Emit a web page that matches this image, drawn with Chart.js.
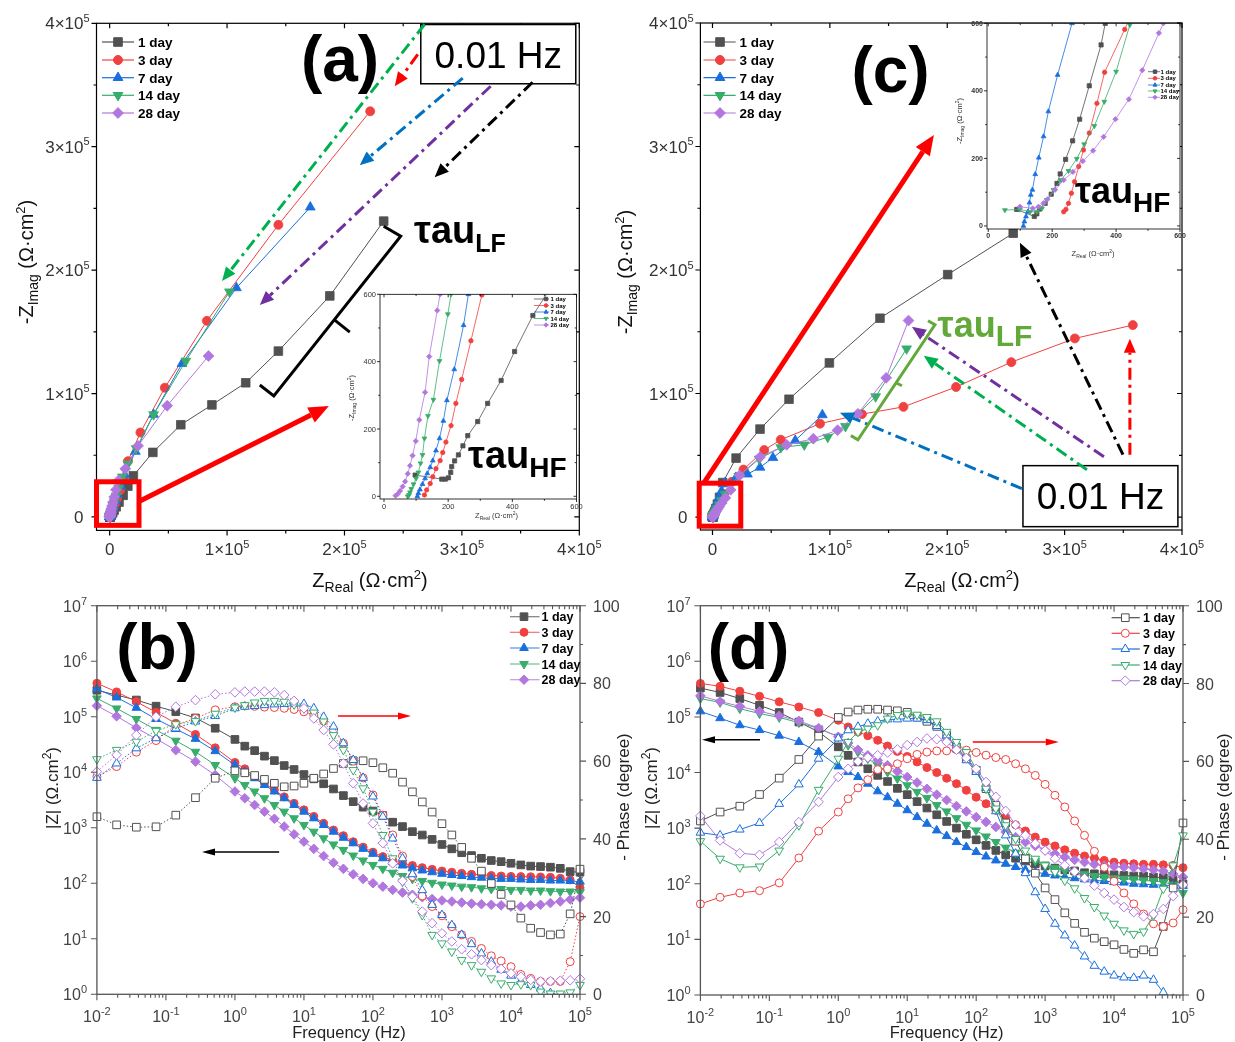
<!DOCTYPE html>
<html>
<head>
<meta charset="utf-8">
<title>EIS Nyquist / Bode</title>
<script src="https://cdn.jsdelivr.net/npm/chart.js@4.4.1/dist/chart.umd.min.js"></script>
<style>
  html, body { margin: 0; padding: 0; background: #fff; }
  #wrap { position: relative; width: 1235px; height: 1042px; overflow: hidden; background: #fff; }
  #wrap canvas { position: absolute; left: 0; top: 0; }
</style>
</head>
<body>
<div id="wrap">
  <canvas id="cA" width="1235" height="1042"></canvas>
  <canvas id="cAin" width="1235" height="1042"></canvas>
  <canvas id="cC" width="1235" height="1042"></canvas>
  <canvas id="cCin" width="1235" height="1042"></canvas>
  <canvas id="cB" width="1235" height="1042"></canvas>
  <canvas id="cD" width="1235" height="1042"></canvas>
</div>
<script>
// ---------------- data ----------------
const days = ['1 day', '3 day', '7 day', '14 day', '28 day'];
const colors = ['#515151', '#F14040', '#1A6FDF', '#37AD6B', '#B177DE'];

const nyqTicks = [0, 1e5, 2e5, 3e5, 4e5];
const nyqMinor = [5e4, 1.5e5, 2.5e5, 3.5e5];
const insetTicks = [0, 200, 400, 600];
const insetMinor = [100, 300, 500];
const freqExp = [-2, -1, 0, 1, 2, 3, 4, 5];
const zExp = [0, 1, 2, 3, 4, 5, 6, 7];
const phaseTicks = [0, 20, 40, 60, 80, 100];
const phaseMinor = [10, 30, 50, 70, 90];

// Nyquist (a) : [Z real, -Z imag] in ohm.cm2, high frequency first
const aNy1 = [[97,63],[180,51],[191,51],[201,55],[208,71],[211,88],[220,105],[232,123],[246,150],[261,180],[292,222],[323,276],[365,344],[407,430],[464,537],[560,680],[650,800],[800,1000],[1000,1300],[1350,1800],[1900,2600],[2700,3800],[3900,5600],[5600,8200],[8000,1.2e4],[1.15e4,1.75e4],[1.55e4,2.5e4],[2.02e4,3.34e4],[3.68e4,5.23e4],[6.06e4,7.47e4],[8.71e4,9.08e4],[1.159e5,1.087e5],[1.437e5,1.344e5],[1.875e5,1.791e5],[2.334e5,2.397e5]];
const aNy3 = [[126,4],[133,19],[144,38],[152,58],[162,82],[175,106],[183,130],[193,161],[209,210],[224,276],[242,347],[271,462],[305,598],[340,680],[390,790],[460,950],[560,1180],[700,1500],[900,1950],[1200,2650],[1650,3700],[2300,5200],[3200,7300],[4500,1.04e4],[6300,1.5e4],[8800,2.15e4],[1.2e4,3.05e4],[1.56e4,4.52e4],[2.62e4,6.84e4],[4.7e4,1.047e5],[8.28e4,1.589e5],[1.437e5,2.367e5],[2.219e5,3.287e5]];
const aNy7 = [[104,0],[107,9],[112,20],[120,36],[128,53],[135,68],[144,86],[152,106],[162,136],[173,172],[185,224],[196,285],[219,377],[248,508],[263,600],[290,690],[330,810],[390,980],[470,1200],[590,1520],[760,1960],[1000,2600],[1350,3500],[1850,4800],[2550,6700],[3550,9300],[4900,1.3e4],[6800,1.8e4],[9500,2.5e4],[1.3e4,3.4e4],[2.19e4,5.3e4],[3.74e4,8.3e4],[6.16e4,1.242e5],[1.08e5,1.856e5],[1.709e5,2.51e5]];
const aNy14 = [[74,0],[78,4],[81,12],[85,22],[92,36],[100,53],[107,71],[114,98],[120,123],[126,172],[137,239],[154,287],[173,402],[199,541],[209,600],[230,700],[265,840],[315,1030],[385,1290],[480,1640],[620,2120],[820,2780],[1100,3700],[1500,4950],[2050,6700],[2850,9100],[3950,1.24e4],[5500,1.7e4],[7700,2.35e4],[1.08e4,3.25e4],[1.55e4,4.3e4],[2.26e4,5.55e4],[3.74e4,8.3e4],[6.49e4,1.264e5],[1.02e5,1.825e5]];
const aNy28 = [[36,2],[43,7],[50,16],[58,29],[66,44],[74,67],[81,91],[89,121],[99,164],[110,227],[128,309],[141,415],[166,552],[175,600],[190,700],[215,840],[250,1030],[300,1290],[370,1640],[470,2130],[610,2800],[810,3700],[1090,4950],[1480,6650],[2020,8950],[2780,1.2e4],[3850,1.62e4],[5350,2.2e4],[7450,2.95e4],[1.33e4,3.9e4],[2.42e4,5.76e4],[4.9e4,9.01e4],[8.42e4,1.304e5]];

// Nyquist (c)
const cNy1 = [[89,49],[144,28],[152,36],[160,50],[178,67],[197,94],[215,126],[225,154],[242,197],[264,252],[286,316],[316,415],[353,536],[366,600],[400,700],[470,880],[580,1150],[750,1550],[1000,2150],[1400,3100],[2000,4600],[2900,7000],[4200,1.05e4],[6000,1.6e4],[8700,2.79e4],[2.01e4,4.77e4],[4.05e4,7.12e4],[6.52e4,9.54e4],[9.96e4,1.248e5],[1.427e5,1.61e5],[2.004e5,1.963e5],[2.562e5,2.298e5]];
const cNy3 = [[236,42],[243,49],[251,67],[260,97],[270,131],[283,176],[298,225],[316,275],[340,363],[364,455],[427,582],[440,610],[480,700],[540,830],[630,1010],[760,1260],[950,1600],[1220,2080],[1600,2750],[2150,3700],[2900,5000],[3950,6900],[5400,9500],[7400,1.32e4],[1.0e4,1.85e4],[1.64e4,2.85e4],[2.64e4,3.84e4],[4.41e4,5.42e4],[5.82e4,6.26e4],[9.16e4,7.56e4],[1.273e5,8.33e4],[1.627e5,8.92e4],[2.075e5,1.053e5],[2.546e5,1.254e5],[3.087e5,1.446e5],[3.581e5,1.554e5]];
const cNy7 = [[110,0],[113,13],[118,28],[124,42],[129,69],[133,92],[138,107],[147,153],[158,202],[173,265],[188,339],[217,447],[262,600],[285,700],[320,840],[370,1030],[440,1290],[540,1640],[690,2120],[900,2780],[1200,3680],[1620,4900],[2200,6550],[3000,8800],[4100,1.18e4],[5600,1.58e4],[7700,2.1e4],[1.05e4,2.75e4],[2.0e4,3.2e4],[2.98e4,3.47e4],[4.05e4,4.02e4],[5.15e4,4.8e4],[7.05e4,6.2e4],[9.36e4,8.27e4]];
const cNy14 = [[52,47],[99,49],[131,42],[152,42],[168,52],[183,77],[204,107],[227,136],[251,163],[277,199],[300,242],[332,296],[363,368],[400,457],[443,595],[470,680],[510,790],[570,940],[660,1150],[790,1430],[980,1800],[1250,2300],[1650,3000],[2200,3950],[3000,5300],[4100,7200],[5600,9800],[7700,1.34e4],[1.06e4,1.85e4],[1.5e4,2.6e4],[2.24e4,3.31e4],[3.98e4,4.71e4],[5.82e4,5.63e4],[7.82e4,5.85e4],[9.82e4,6.47e4],[1.133e5,7.34e4],[1.39e5,9.75e4],[1.654e5,1.363e5]];
const cNy28 = [[99,57],[139,52],[157,57],[173,67],[185,79],[209,107],[236,136],[265,160],[296,192],[328,223],[361,264],[398,316],[440,375],[482,461],[534,571],[548,600],[590,690],[650,810],[740,980],[870,1210],[1060,1530],[1330,1970],[1720,2580],[2270,3420],[3050,4580],[4150,6150],[5700,8300],[7900,1.13e4],[1.1e4,1.55e4],[1.55e4,2.2e4],[2.31e4,3.37e4],[4.05e4,4.86e4],[6.32e4,5.85e4],[8.59e4,6.34e4],[1.066e5,7.03e4],[1.239e5,8.36e4],[1.48e5,1.127e5],[1.67e5,1.591e5]];

// Bode frequencies (Hz)
const freq = [0.01, 0.0193, 0.0373, 0.072, 0.139, 0.268, 0.518, 1, 1.39, 1.93, 2.68, 3.73, 5.18, 7.2, 10, 13.9, 19.3, 26.8, 37.3, 51.8, 72, 100, 139, 193, 268, 373, 518, 720, 1000, 1390, 1930, 2680, 3730, 5180, 7200, 10000, 13900, 19300, 26800, 37300, 51800, 72000, 100000];

// Bode (b): |Z| (ohm.cm2) and -phase (degree)
const bZ1 = [3.0e5, 2.45e5, 2.0e5, 1.55e5, 1.23e5, 9.5e4, 6.2e4, 3.9e4, 2.95e4, 2.45e4, 1.95e4, 1.62e4, 1.32e4, 1.12e4, 9.1e3, 7.6e3, 6.2e3, 5.0e3, 3.8e3, 2.95e3, 2.35e3, 2.0e3, 1.66e3, 1.26e3, 1.05e3, 850, 740, 617, 500, 417, 355, 316, 282, 257, 245, 229, 214, 204, 200, 195, 186, 162, 158];
const bP1 = [45.7, 43.6, 43.0, 43.1, 46.1, 50.6, 55.6, 57.5, 57.0, 56.3, 55.3, 54.3, 53.4, 53.6, 54.3, 55.6, 56.7, 58.1, 59.4, 60.1, 60.1, 59.6, 58.3, 56.9, 54.6, 52.1, 49.5, 46.9, 43.9, 41.0, 37.8, 35.0, 31.7, 28.5, 25.7, 23.0, 19.6, 17.0, 15.9, 15.3, 15.5, 20.7, 32.2];
const bZ3 = [4.0e5, 2.8e5, 1.87e5, 1.2e5, 7.6e4, 4.8e4, 2.75e4, 1.5e4, 1.15e4, 8.3e3, 6.3e3, 4.8e3, 3.6e3, 2.75e3, 2.1e3, 1.6e3, 1.2e3, 910, 720, 560, 447, 363, 302, 257, 229, 209, 191, 178, 166, 158, 151, 145, 141, 138, 135, 133, 132, 131, 130, 128, 123, 115, 83];
const bP3 = [56.0, 58.6, 62.3, 65.3, 69.3, 71.0, 73.2, 74.0, 74.2, 74.1, 73.9, 73.8, 73.6, 73.3, 72.7, 71.9, 70.3, 68.0, 64.6, 60.0, 55.7, 51.3, 46.1, 41.0, 35.6, 30.3, 25.3, 22.6, 20.2, 17.4, 15.3, 13.6, 11.8, 9.9, 8.6, 7.1, 5.1, 4.1, 3.3, 3.3, 3.3, 8.4, 20.0];
const bZ7 = [3.15e5, 2.22e5, 1.45e5, 9.1e4, 6.0e4, 4.0e4, 2.4e4, 1.35e4, 1.02e4, 7.8e3, 5.9e3, 4.5e3, 3.4e3, 2.57e3, 1.95e3, 1.48e3, 1.12e3, 850, 660, 525, 417, 339, 282, 240, 209, 186, 170, 158, 148, 141, 135, 129, 126, 123, 120, 120, 117, 115, 115, 112, 112, 110, 107];
const bP7 = [55.7, 59.4, 63.3, 65.9, 68.4, 70.2, 71.6, 73.6, 74.0, 74.2, 74.4, 74.6, 74.7, 74.8, 74.7, 73.6, 71.4, 68.9, 64.6, 60.3, 55.7, 50.9, 45.7, 40.1, 35.0, 30.9, 26.8, 23.0, 20.4, 17.8, 15.3, 12.9, 10.5, 8.4, 6.3, 4.8, 3.3, 2.4, 1.5, 0.3, -1, -2, -3];
const bZ14 = [2.14e5, 1.41e5, 9.1e4, 5.8e4, 3.7e4, 2.34e4, 1.35e4, 7.8e3, 5.9e3, 4.5e3, 3.4e3, 2.57e3, 1.95e3, 1.48e3, 1.12e3, 850, 645, 500, 398, 316, 257, 214, 182, 155, 135, 120, 110, 102, 95, 91, 87, 85, 81, 79, 79, 76, 76, 74, 74, 72, 71, 71, 69];
const bP14 = [60.5, 62.9, 65.0, 67.8, 69.5, 70.3, 72.2, 73.8, 74.4, 75.1, 75.5, 75.5, 75.3, 74.6, 73.6, 72.5, 70.2, 66.7, 62.9, 57.7, 53.0, 47.0, 41.0, 35.0, 29.0, 24.7, 20.4, 15.3, 13.1, 11.0, 8.8, 7.5, 5.8, 4.1, 2.8, 2.4, 2.6, 2.4, 0.7, 0.2, 0.2, 0.5, 2.4];
const bZ28 = [1.58e5, 1.02e5, 6.3e4, 4.0e4, 2.5e4, 1.55e4, 8.9e3, 4.5e3, 3.4e3, 2.57e3, 1.95e3, 1.45e3, 1.05e3, 760, 562, 417, 309, 234, 182, 145, 120, 100, 87, 76, 68, 62, 56, 52, 49, 47, 45, 43, 42, 41, 40, 38, 38, 40, 41, 44, 47, 51, 55];
const bP28 = [57.3, 61.6, 66.7, 71.4, 74.0, 75.7, 77.2, 77.7, 77.9, 77.9, 77.9, 77.7, 77.0, 75.5, 73.6, 71.0, 68.0, 64.3, 59.4, 54.3, 49.1, 44.0, 38.9, 33.7, 29.2, 25.1, 21.3, 18.3, 15.7, 13.6, 11.6, 10.3, 8.8, 7.5, 6.5, 5.4, 4.5, 3.7, 3.3, 3.4, 3.5, 3.6, 4.0];

// Bode (d)
const dZ1 = [3.3e5, 2.75e5, 2.14e5, 1.62e5, 1.2e5, 8.1e4, 5.4e4, 2.9e4, 2.04e4, 1.55e4, 1.17e4, 8.9e3, 6.9e3, 5.2e3, 4.0e3, 3.0e3, 2.3e3, 1.74e3, 1.32e3, 1.0e3, 776, 617, 490, 398, 331, 288, 257, 229, 209, 191, 178, 170, 158, 151, 148, 145, 141, 138, 138, 132, 129, 115, 100];
const dP1 = [44.7, 47.0, 48.5, 51.5, 55.7, 60.5, 66.5, 71.3, 72.7, 73.2, 73.4, 73.4, 73.2, 73.0, 72.6, 71.4, 70.3, 69.0, 66.7, 63.7, 60.7, 57.7, 53.0, 48.7, 44.2, 39.5, 35.0, 31.3, 27.5, 24.5, 21.1, 18.4, 16.1, 14.6, 13.7, 12.9, 11.7, 10.7, 11.6, 11.1, 17.6, 27.5, 44.2];
const dZ3 = [4.0e5, 3.55e5, 2.9e5, 2.35e5, 1.87e5, 1.51e5, 1.2e5, 8.7e4, 6.6e4, 5.4e4, 4.6e4, 3.8e4, 3.0e4, 2.4e4, 1.95e4, 1.55e4, 1.23e4, 1.0e4, 7.9e3, 6.3e3, 4.8e3, 3.6e3, 2.75e3, 2.1e3, 1.58e3, 1.15e3, 890, 690, 562, 479, 407, 355, 316, 288, 263, 245, 234, 229, 224, 224, 219, 214, 195];
const dP3 = [23.4, 25.1, 26.2, 26.8, 28.8, 35.2, 42.1, 47.0, 50.4, 53.2, 55.3, 57.9, 58.1, 59.4, 60.7, 61.8, 62.4, 62.7, 62.7, 63.0, 62.9, 62.3, 61.6, 61.0, 60.5, 59.4, 58.1, 56.4, 54.1, 51.3, 48.3, 44.7, 41.0, 36.9, 32.8, 29.2, 26.2, 23.4, 20.8, 18.3, 17.6, 18.5, 21.9];
const dZ7 = [1.26e5, 9.5e4, 7.1e4, 5.8e4, 4.6e4, 3.55e4, 2.34e4, 1.29e4, 1.02e4, 8.3e3, 6.3e3, 4.6e3, 3.6e3, 2.75e3, 2.1e3, 1.58e3, 1.2e3, 910, 720, 562, 457, 372, 309, 263, 229, 200, 178, 162, 151, 141, 132, 126, 120, 115, 112, 107, 105, 100, 98, 96, 94, 93, 91];
const dP7 = [41.7, 41.0, 42.5, 44.2, 49.1, 54.1, 60.7, 65.9, 68.0, 68.9, 69.7, 70.3, 70.8, 70.8, 71.0, 71.0, 70.6, 69.1, 66.7, 63.1, 60.3, 57.3, 53.2, 47.2, 41.0, 36.3, 31.3, 26.4, 22.1, 18.3, 15.3, 12.7, 9.9, 7.5, 6.0, 5.0, 4.5, 4.4, 5.0, 3.9, 0.7, -1, -2];
const dZ14 = [2.14e5, 1.82e5, 1.41e5, 1.15e5, 9.8e4, 7.9e4, 6.2e4, 4.4e4, 3.1e4, 2.34e4, 1.78e4, 1.35e4, 1.02e4, 7.8e3, 5.9e3, 4.5e3, 3.5e3, 2.6e3, 2.0e3, 1.51e3, 1.15e3, 910, 708, 562, 447, 363, 302, 257, 219, 191, 174, 158, 148, 138, 132, 126, 123, 120, 115, 112, 107, 96, 68];
const dP14 = [39.5, 35.0, 32.8, 33.0, 37.1, 43.6, 52.7, 60.7, 65.0, 67.6, 68.4, 69.3, 71.0, 71.9, 72.3, 72.0, 71.4, 70.3, 67.6, 65.0, 62.4, 58.1, 53.0, 47.9, 43.6, 40.1, 37.1, 35.0, 33.3, 31.6, 29.4, 27.4, 24.9, 22.6, 20.4, 18.3, 16.6, 15.7, 16.3, 20.4, 27.3, 33.3, 41.0];
const dZ28 = [2.4e5, 1.9e5, 1.55e5, 1.26e5, 1.05e5, 8.5e4, 6.3e4, 4.4e4, 3.4e4, 2.57e4, 2.04e4, 1.66e4, 1.35e4, 1.05e4, 8.3e3, 6.6e3, 5.1e3, 4.0e3, 3.2e3, 2.5e3, 2.0e3, 1.58e3, 1.29e3, 1.05e3, 850, 690, 562, 479, 398, 347, 302, 269, 245, 224, 214, 204, 200, 195, 186, 178, 170, 151, 132];
const dP28 = [46.0, 39.7, 36.4, 36.0, 39.3, 44.4, 49.6, 56.0, 58.1, 60.0, 61.0, 61.6, 62.3, 63.1, 64.2, 65.0, 65.9, 65.7, 65.0, 63.0, 60.9, 58.1, 54.7, 50.9, 47.3, 43.7, 41.0, 38.9, 37.1, 35.0, 33.3, 31.7, 30.0, 28.1, 26.2, 24.5, 22.6, 21.3, 20.2, 20.8, 22.1, 25.4, 28.3];

// ---------------- helpers ----------------
const W = 1235, H = 1042;
const FF = '"Liberation Sans", Arial, Helvetica, sans-serif';
const shapes = ['rect', 'circle', 'triangle', 'triangle', 'rectRot'];
const rots = [0, 0, 0, 180, 0];
const sizeF = [1.35, 1, 1.25, 1.25, 1.2];

function fnt(px, bold) { return (bold ? 'bold ' : '') + px + 'px ' + FF; }

// parts: [text, size, dy, bold]
function rich(ctx, x, y, parts, align, color) {
  const ws = parts.map(p => { ctx.font = fnt(p[1], p[3]); return ctx.measureText(p[0]).width; });
  const total = ws.reduce((s, w) => s + w, 0);
  let cx = x;
  if (align === 'center') cx = x - total / 2;
  else if (align === 'right') cx = x - total;
  else if (align === 'rightBase') cx = x - ws[0];
  ctx.fillStyle = color || '#000';
  ctx.textAlign = 'left';
  ctx.textBaseline = 'alphabetic';
  parts.forEach((p, i) => { ctx.font = fnt(p[1], p[3]); ctx.fillText(p[0], cx, y + (p[2] || 0)); cx += ws[i]; });
}
function richRot(ctx, x, y, parts, color) {
  ctx.save();
  ctx.translate(x, y);
  ctx.rotate(-Math.PI / 2);
  rich(ctx, 0, 0, parts, 'center', color);
  ctx.restore();
}

function tickMarks(c, id, side, vals, len) {
  const ctx = c.ctx, a = c.chartArea, s = c.scales[id];
  ctx.beginPath();
  vals.forEach(v => {
    const p = s.getPixelForValue(v);
    if (side === 'b') { ctx.moveTo(p, a.bottom); ctx.lineTo(p, a.bottom + len); }
    else if (side === 't') { ctx.moveTo(p, a.top); ctx.lineTo(p, a.top - len); }
    else if (side === 'l') { ctx.moveTo(a.left, p); ctx.lineTo(a.left - len, p); }
    else { ctx.moveTo(a.right, p); ctx.lineTo(a.right + len, p); }
  });
  ctx.stroke();
}

function logMinor(e0, e1) {
  const out = [];
  for (let e = e0; e < e1; e++) for (let m = 2; m < 10; m++) out.push(m * Math.pow(10, e));
  return out;
}

function marker(ctx, i, x, y, r, open) {
  const rr = r * sizeF[i];
  ctx.beginPath();
  if (shapes[i] === 'rect') {
    const s = rr * Math.SQRT1_2;
    ctx.rect(x - s, y - s, 2 * s, 2 * s);
  } else if (shapes[i] === 'circle') {
    ctx.arc(x, y, rr, 0, Math.PI * 2);
  } else if (shapes[i] === 'triangle') {
    let ang = rots[i] * Math.PI / 180;
    for (let k = 0; k < 3; k++) {
      const px = x + Math.sin(ang) * rr, py = y - Math.cos(ang) * rr;
      if (k === 0) ctx.moveTo(px, py); else ctx.lineTo(px, py);
      ang += 2 * Math.PI / 3;
    }
  } else {
    ctx.moveTo(x, y - rr); ctx.lineTo(x + rr, y); ctx.lineTo(x, y + rr); ctx.lineTo(x - rr, y);
  }
  ctx.closePath();
  ctx.fillStyle = open ? '#fff' : colors[i];
  ctx.fill();
  ctx.strokeStyle = colors[i];
  ctx.lineWidth = 1;
  ctx.stroke();
}

function legend(ctx, o) {
  ctx.save();
  days.forEach((d, i) => {
    const y = o.y[i];
    ctx.globalAlpha = o.alpha || 1;
    ctx.strokeStyle = colors[i];
    ctx.lineWidth = o.lw || 1.2;
    ctx.beginPath(); ctx.moveTo(o.x1, y); ctx.lineTo(o.x2, y); ctx.stroke();
    ctx.globalAlpha = 1;
    marker(ctx, i, o.mx, y, o.r, o.open);
    ctx.font = fnt(o.fs, true);
    ctx.fillStyle = '#000';
    ctx.textAlign = 'left';
    ctx.textBaseline = 'alphabetic';
    ctx.fillText(d, o.lx, y + o.fs * 0.36);
  });
  ctx.restore();
}

function arrow(ctx, p, q, color, lw, dash, hl, hw) {
  const ang = Math.atan2(q[1] - p[1], q[0] - p[0]);
  const bx = q[0] - Math.cos(ang) * hl, by = q[1] - Math.sin(ang) * hl;
  ctx.save();
  ctx.strokeStyle = color; ctx.fillStyle = color; ctx.lineWidth = lw;
  ctx.setLineDash(dash || []);
  ctx.beginPath(); ctx.moveTo(p[0], p[1]); ctx.lineTo(bx, by); ctx.stroke();
  ctx.setLineDash([]);
  ctx.beginPath();
  ctx.moveTo(q[0], q[1]);
  ctx.lineTo(bx + Math.sin(ang) * hw / 2, by - Math.cos(ang) * hw / 2);
  ctx.lineTo(bx - Math.sin(ang) * hw / 2, by + Math.cos(ang) * hw / 2);
  ctx.closePath(); ctx.fill();
  ctx.restore();
}

function poly(ctx, pts, color, lw) {
  ctx.save();
  ctx.strokeStyle = color; ctx.lineWidth = lw; ctx.lineJoin = 'miter';
  ctx.beginPath();
  pts.forEach((p, k) => k ? ctx.lineTo(p[0], p[1]) : ctx.moveTo(p[0], p[1]));
  ctx.stroke();
  ctx.restore();
}

function hzBox(ctx, p, q) {
  ctx.save();
  ctx.fillStyle = '#fff';
  ctx.fillRect(p[0], p[1], q[0] - p[0], q[1] - p[1]);
  ctx.strokeStyle = '#000'; ctx.lineWidth = 1.5;
  ctx.strokeRect(p[0], p[1], q[0] - p[0], q[1] - p[1]);
  ctx.fillStyle = '#000'; ctx.font = fnt(37); ctx.textAlign = 'center'; ctx.textBaseline = 'alphabetic';
  ctx.fillText('0.01 Hz', (p[0] + q[0]) / 2, p[1] + 43);
  ctx.restore();
}

function bigLabel(ctx, t, x, y) {
  ctx.save();
  ctx.font = fnt(64, true); ctx.fillStyle = '#000'; ctx.textAlign = 'center'; ctx.textBaseline = 'alphabetic';
  ctx.fillText(t, x, y);
  ctx.restore();
}

function tau(ctx, x, y, sub, color, f1, f2, dy) {
  ctx.save();
  ctx.fillStyle = color; ctx.textAlign = 'left'; ctx.textBaseline = 'alphabetic';
  ctx.font = fnt(f1, true);
  ctx.fillText('τau', x, y);
  const w = ctx.measureText('τau').width;
  ctx.font = fnt(f2, true);
  ctx.fillText(sub, x + w, y + dy);
  ctx.restore();
}

function nyqLabel(v) {
  if (v === 0) return [['0', 17]];
  return [[(v / 1e5) + '×10', 17], ['5', 11, -7.5]];
}
function powLabel(e) { return [['10', 16], [String(e), 11, -7]]; }

function nyqAxes(c, t) {
  const ctx = c.ctx, a = c.chartArea, xs = c.scales.x, ys = c.scales.y;
  ctx.save();
  ctx.strokeStyle = '#000'; ctx.lineWidth = 1.2;
  ctx.strokeRect(a.left, a.top, a.right - a.left, a.bottom - a.top);
  tickMarks(c, 'x', 'b', nyqTicks, 5); tickMarks(c, 'x', 'b', nyqMinor, 3);
  tickMarks(c, 'x', 't', nyqTicks, -5); tickMarks(c, 'x', 't', nyqMinor, -3);
  tickMarks(c, 'y', 'l', nyqTicks, 5); tickMarks(c, 'y', 'l', nyqMinor, 3);
  tickMarks(c, 'y', 'r', nyqTicks, -5); tickMarks(c, 'y', 'r', nyqMinor, -3);
  nyqTicks.forEach(v => {
    rich(ctx, xs.getPixelForValue(v), a.bottom + 25, nyqLabel(v), 'center', '#333');
    rich(ctx, a.left - 13, ys.getPixelForValue(v) + 6, nyqLabel(v), 'rightBase', '#333');
  });
  rich(ctx, t.xt[0], t.xt[1], [['Z', 20], ['Real', 14, 5], [' (Ω·cm', 20], ['2', 13, -8], [')', 20]], 'center', '#111');
  richRot(ctx, t.yt[0], t.yt[1], [['-Z', 20], ['Imag', 14, 5], [' (Ω·cm', 20], ['2', 13, -8], [')', 20]], '#111');
  ctx.restore();
}

function insetAxes(c, o) {
  const ctx = c.ctx, a = c.chartArea, xs = c.scales.x, ys = c.scales.y;
  ctx.save();
  ctx.strokeStyle = '#000'; ctx.lineWidth = 0.8;
  ctx.strokeRect(a.left, a.top, a.right - a.left, a.bottom - a.top);
  tickMarks(c, 'x', 'b', insetTicks, 3); tickMarks(c, 'x', 'b', insetMinor, 1.8);
  tickMarks(c, 'x', 't', insetTicks, -3); tickMarks(c, 'x', 't', insetMinor, -1.8);
  tickMarks(c, 'y', 'l', insetTicks, 3); tickMarks(c, 'y', 'l', insetMinor, 1.8);
  tickMarks(c, 'y', 'r', insetTicks, -3); tickMarks(c, 'y', 'r', insetMinor, -1.8);
  insetTicks.forEach(v => {
    rich(ctx, xs.getPixelForValue(v), a.bottom + o.xlab, [[String(v), o.fs, 0, o.bold]], 'center', '#333');
    rich(ctx, a.left - 4, ys.getPixelForValue(v) + o.fs * 0.36, [[String(v), o.fs, 0, o.bold]], 'right', '#333');
  });
  rich(ctx, o.xt[0], o.xt[1], [['Z', 7.5], ['Real', 5, 2], [' (Ω·cm', 7.5], ['2', 5, -3.5], [')', 7.5]], 'center', '#333');
  richRot(ctx, o.yt[0], o.yt[1], [['-Z', 7.5], ['Imag', 5, 2], [' (Ω·cm', 7.5], ['2', 5, -3.5], [')', 7.5]], '#333');
  ctx.restore();
}

function bodeAxes(c, t) {
  const ctx = c.ctx, a = c.chartArea, xs = c.scales.x, ys = c.scales.y, ps = c.scales.y2;
  const fMaj = freqExp.map(e => Math.pow(10, e));
  const fMin = logMinor(-2, 5);
  const zMaj = zExp.map(e => Math.pow(10, e));
  ctx.save();
  ctx.strokeStyle = '#555'; ctx.lineWidth = 1.3;
  ctx.strokeRect(a.left, a.top, a.right - a.left, a.bottom - a.top);
  ctx.lineWidth = 1.1;
  tickMarks(c, 'x', 'b', fMaj, 6); tickMarks(c, 'x', 'b', fMin, 3.5);
  tickMarks(c, 'x', 't', fMaj, -6); tickMarks(c, 'x', 't', fMin, -3.5);
  tickMarks(c, 'y', 'l', zMaj, 6);
  tickMarks(c, 'y2', 'r', phaseTicks, 6); tickMarks(c, 'y2', 'r', phaseMinor, 3);
  freqExp.forEach(e => rich(ctx, xs.getPixelForValue(Math.pow(10, e)), a.bottom + 28, powLabel(e), 'center', '#444'));
  zExp.forEach(e => rich(ctx, a.left - 16, ys.getPixelForValue(Math.pow(10, e)) + 6, powLabel(e), 'rightBase', '#444'));
  phaseTicks.forEach(v => rich(ctx, a.right + 13, ps.getPixelForValue(v) + 6, [[String(v), 16]], 'left', '#444'));
  rich(ctx, t.ft[0], t.ft[1], [['Frequency (Hz)', 16.5]], 'center', '#222');
  richRot(ctx, t.zt[0], t.zt[1], [['|Z| (Ω.cm', 17], ['2', 12, -7], [')', 17]], '#222');
  richRot(ctx, t.pt[0], t.pt[1], [['- Phase (degree)', 17]], '#222');
  ctx.restore();
}

function baseOpts(area, scales) {
  return {
    responsive: false, animation: false, devicePixelRatio: 1, events: [],
    layout: { padding: { left: area[0], top: area[1], right: W - area[2], bottom: H - area[3] } },
    plugins: { legend: { display: false }, tooltip: { enabled: false }, title: { display: false } },
    scales: scales
  };
}

function nyqSet(i, pts, r, lw) {
  return {
    label: days[i],
    data: pts.map(p => ({ x: p[0], y: p[1] })),
    showLine: true, borderColor: colors[i], backgroundColor: colors[i], borderWidth: lw,
    pointStyle: shapes[i], pointRotation: rots[i], pointRadius: r * sizeF[i],
    pointBackgroundColor: colors[i], pointBorderColor: colors[i], pointBorderWidth: 0.8,
    order: 4 - i
  };
}

function bodeSet(i, vals, axis, open, dotted, r) {
  return {
    label: days[i],
    data: freq.map((f, k) => ({ x: f, y: vals[k] })),
    yAxisID: axis, showLine: true,
    borderColor: colors[i], backgroundColor: open ? '#fff' : colors[i], borderWidth: 1,
    borderDash: dotted ? [1.5, 2] : [],
    pointStyle: shapes[i], pointRotation: rots[i], pointRadius: r * sizeF[i],
    pointBackgroundColor: open ? '#fff' : colors[i], pointBorderColor: colors[i], pointBorderWidth: 1,
    order: (open ? 0 : 10) + 4 - i,
    clip: { left: 8, right: 8, top: 8, bottom: 0 }
  };
}

const bodeScales = () => ({
  x: { type: 'logarithmic', min: 0.01, max: 1e5, display: false },
  y: { type: 'logarithmic', min: 1, max: 1e7, display: false },
  y2: { type: 'linear', min: 0, max: 100, display: false, position: 'right' }
});

// ---------------- (a) Nyquist ----------------
new Chart(document.getElementById('cA'), {
  type: 'scatter',
  data: { datasets: [aNy1, aNy3, aNy7, aNy14, aNy28].map((d, i) => nyqSet(i, d, 4.5, 1)) },
  options: baseOpts([96.5, 23.3, 579.3, 530.4], {
    x: { type: 'linear', min: -1.12e4, max: 4e5, display: false },
    y: { type: 'linear', min: -1.09e4, max: 4e5, display: false }
  }),
  plugins: [{
    id: 'decoA',
    afterDatasetsDraw(c) {
      const ctx = c.ctx;
      const P = (x, y) => [c.scales.x.getPixelForValue(x), c.scales.y.getPixelForValue(y)];
      nyqAxes(c, { xt: [370, 587], yt: [33, 262] });
      legend(ctx, { x1: 102, x2: 134, mx: 118, lx: 138, y: [42, 60, 77.7, 95.3, 113], fs: 13.5, r: 4.5 });
      bigLabel(ctx, '(a)', 340, 80.6);
      hzBox(ctx, P(2.65e5, 3.99e5), P(3.97e5, 3.51e5));
      const dd = [12, 5, 3, 5];
      arrow(ctx, P(2.683e5, 3.992e5), P(9.57e4, 1.911e5), '#00B050', 3, dd, 14, 12);
      arrow(ctx, P(2.624e5, 3.749e5), P(2.428e5, 3.49e5), '#FF0000', 3, dd, 14, 12);
      arrow(ctx, P(3.007e5, 3.555e5), P(2.13e5, 2.85e5), '#0070C0', 3, dd, 14, 12);
      arrow(ctx, P(3.245e5, 3.49e5), P(1.279e5, 1.717e5), '#7030A0', 3, dd, 14, 12);
      arrow(ctx, P(3.602e5, 3.522e5), P(2.768e5, 2.753e5), '#000000', 3, dd, 14, 12);
      poly(ctx, [P(2.334e5, 2.356e5), P(2.479e5, 2.275e5), P(1.398e5, 9.8e4), P(1.279e5, 1.069e5)], '#000', 3);
      poly(ctx, [P(1.917e5, 1.595e5), P(2.045e5, 1.498e5)], '#000', 3);
      tau(ctx, 414, 243, 'LF', '#000', 38, 25, 9);
      const b1 = P(-1.12e4, 2.85e4), b2 = P(2.5e4, -6.8e3);
      ctx.save();
      ctx.strokeStyle = '#FF0000'; ctx.lineWidth = 5;
      ctx.strokeRect(b1[0], b1[1], b2[0] - b1[0], b2[1] - b1[1]);
      ctx.restore();
      arrow(ctx, P(2.58e4, 1.3e4), P(1.867e5, 8.99e4), '#FF0000', 5, null, 20, 17);
    }
  }]
});

// ---------------- (a) inset ----------------
new Chart(document.getElementById('cAin'), {
  type: 'scatter',
  data: { datasets: [aNy1, aNy3, aNy7, aNy14, aNy28].map((d, i) => nyqSet(i, d, 2.2, 0.8)) },
  options: baseOpts([380, 294.3, 576.5, 499], {
    x: { type: 'linear', min: -12.5, max: 600, display: false },
    y: { type: 'linear', min: -8, max: 600, display: false }
  }),
  plugins: [{
    id: 'decoAin',
    beforeDatasetsDraw(c) {
      const a = c.chartArea;
      c.ctx.fillStyle = '#fff';
      c.ctx.fillRect(a.left, a.top, a.right - a.left, a.bottom - a.top);
    },
    afterDatasetsDraw(c) {
      const ctx = c.ctx;
      insetAxes(c, { fs: 7.5, bold: false, xlab: 10, xt: [496.5, 518.3], yt: [354, 398] });
      legend(ctx, { x1: 534, x2: 549, mx: 546, lx: 550.5, y: [299, 305.5, 312, 318.5, 325], fs: 6, r: 1.8, lw: 0.8 });
      tau(ctx, 468, 467.7, 'HF', '#000', 38, 28, 9);
    }
  }]
});

// ---------------- (c) Nyquist ----------------
new Chart(document.getElementById('cC'), {
  type: 'scatter',
  data: { datasets: [cNy1, cNy3, cNy7, cNy14, cNy28].map((d, i) => nyqSet(i, d, 4.5, 1)) },
  options: baseOpts([700.4, 23, 1182, 530], {
    x: { type: 'linear', min: -1.03e4, max: 4e5, display: false },
    y: { type: 'linear', min: -1.05e4, max: 4e5, display: false }
  }),
  plugins: [{
    id: 'decoC',
    afterDatasetsDraw(c) {
      const ctx = c.ctx;
      const P = (x, y) => [c.scales.x.getPixelForValue(x), c.scales.y.getPixelForValue(y)];
      nyqAxes(c, { xt: [962, 587], yt: [632, 272] });
      legend(ctx, { x1: 703.5, x2: 735.7, mx: 720, lx: 739.6, y: [42, 60, 77.7, 95.3, 113], fs: 13.5, r: 4.5 });
      bigLabel(ctx, '(c)', 890.5, 91.6);
      hzBox(ctx, P(2.645e5, 4.16e4), P(3.965e5, -7.8e3));
      const dd = [12, 5, 3, 5];
      arrow(ctx, P(2.636e5, 2.30e4), P(1.086e5, 8.45e4), '#0070C0', 3, dd, 14, 12);
      arrow(ctx, P(3.19e5, 3.83e4), P(1.80e5, 1.306e5), '#00B050', 3, dd, 14, 12);
      arrow(ctx, P(3.335e5, 4.89e4), P(1.699e5, 1.540e5), '#7030A0', 3, dd, 14, 12);
      arrow(ctx, P(3.497e5, 5.05e4), P(2.619e5, 2.22e5), '#000000', 3, dd, 14, 12);
      arrow(ctx, P(3.556e5, 5.05e4), P(3.556e5, 1.443e5), '#FF0000', 3, dd, 14, 12);
      poly(ctx, [P(1.836e5, 1.589e5), P(1.895e5, 1.557e5), P(1.239e5, 6.26e4), P(1.179e5, 6.59e4)], '#62A93A', 3);
      poly(ctx, [P(1.563e5, 1.087e5), P(1.614e5, 1.063e5)], '#62A93A', 3);
      tau(ctx, 937.6, 336.8, 'LF', '#62A93A', 36, 30, 9.5);
      const b1 = P(-1.13e4, 2.74e4), b2 = P(2.41e4, -7.4e3);
      ctx.save();
      ctx.strokeStyle = '#FF0000'; ctx.lineWidth = 5;
      ctx.strokeRect(b1[0], b1[1], b2[0] - b1[0], b2[1] - b1[1]);
      ctx.restore();
      arrow(ctx, P(-7.2e3, 2.78e4), P(1.886e5, 3.094e5), '#FF0000', 5, null, 20, 17);
    }
  }]
});

// ---------------- (c) inset ----------------
new Chart(document.getElementById('cCin'), {
  type: 'scatter',
  data: { datasets: [cNy1, cNy3, cNy7, cNy14, cNy28].map((d, i) => nyqSet(i, d, 2.2, 0.8)) },
  options: baseOpts([987, 23.3, 1180, 229], {
    x: { type: 'linear', min: -4, max: 600, display: false },
    y: { type: 'linear', min: -9, max: 600, display: false }
  }),
  plugins: [{
    id: 'decoCin',
    beforeDatasetsDraw(c) {
      const a = c.chartArea;
      c.ctx.fillStyle = '#fff';
      c.ctx.fillRect(a.left, a.top, a.right - a.left, a.bottom - a.top);
    },
    afterDatasetsDraw(c) {
      const ctx = c.ctx;
      insetAxes(c, { fs: 7, bold: true, xlab: 9, xt: [1093, 256], yt: [962, 121] });
      legend(ctx, { x1: 1148, x2: 1160, mx: 1155, lx: 1160.5, y: [71.7, 78.3, 85, 91, 97.3], fs: 6, r: 1.8, lw: 0.8 });
      tau(ctx, 1075, 203, 'HF', '#000', 36, 28, 8.7);
    }
  }]
});

// ---------------- (b) Bode ----------------
new Chart(document.getElementById('cB'), {
  type: 'scatter',
  data: {
    datasets: [bZ1, bZ3, bZ7, bZ14, bZ28].map((d, i) => bodeSet(i, d, 'y', false, false, 4))
      .concat([bP1, bP3, bP7, bP14, bP28].map((d, i) => bodeSet(i, d, 'y2', true, true, 4)))
  },
  options: baseOpts([96.9, 605.7, 580, 994.3], bodeScales()),
  plugins: [{
    id: 'decoB',
    afterDatasetsDraw(c) {
      const ctx = c.ctx;
      const P = (x, y) => [c.scales.x.getPixelForValue(x), c.scales.y.getPixelForValue(y)];
      bodeAxes(c, { ft: [349, 1038], zt: [58, 788], pt: [629, 797] });
      legend(ctx, { x1: 510, x2: 539.5, mx: 524, lx: 541.5, y: [616.7, 632.3, 648, 664, 679.7], fs: 12.5, r: 4, alpha: 0.75 });
      bigLabel(ctx, '(b)', 157, 668.6);
      arrow(ctx, P(31.2, 1.03e5), P(356, 1.03e5), '#FF0000', 1.5, null, 13, 7);
      arrow(ctx, P(4.37, 366), P(0.333, 366), '#000000', 1.5, null, 13, 7);
    }
  }]
});

// ---------------- (d) Bode ----------------
new Chart(document.getElementById('cD'), {
  type: 'scatter',
  data: {
    datasets: [dZ1, dZ3, dZ7, dZ14, dZ28].map((d, i) => bodeSet(i, d, 'y', false, false, 4))
      .concat([dP1, dP3, dP7, dP14, dP28].map((d, i) => bodeSet(i, d, 'y2', true, false, 4)))
  },
  options: baseOpts([700.4, 605.7, 1183, 995], bodeScales()),
  plugins: [{
    id: 'decoD',
    afterDatasetsDraw(c) {
      const ctx = c.ctx;
      const P = (x, y) => [c.scales.x.getPixelForValue(x), c.scales.y.getPixelForValue(y)];
      bodeAxes(c, { ft: [946.6, 1038], zt: [657, 788], pt: [1229, 797] });
      legend(ctx, { x1: 1111.6, x2: 1139.8, mx: 1125.3, lx: 1143, y: [617.7, 633.3, 649, 665, 680.7], fs: 12.5, r: 4, open: true });
      bigLabel(ctx, '(d)', 748.5, 668.6);
      arrow(ctx, P(0.0733, 3.88e4), P(0.01054, 3.88e4), '#000000', 1.5, null, 13, 7);
      arrow(ctx, P(89.3, 3.54e4), P(1578, 3.54e4), '#FF0000', 1.5, null, 13, 7);
    }
  }]
});
</script>
</body>
</html>
